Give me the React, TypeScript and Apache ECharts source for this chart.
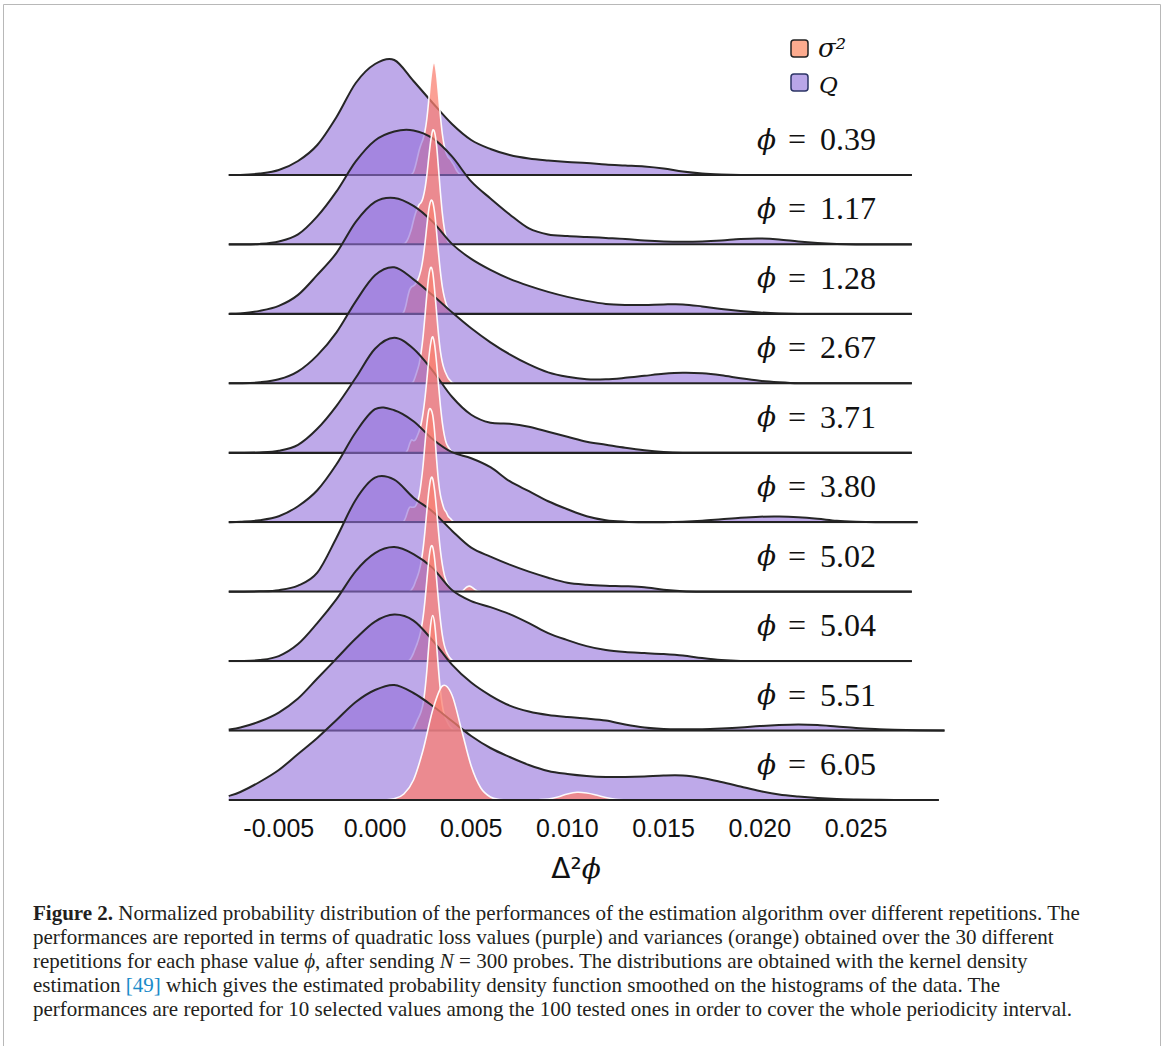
import React, { useEffect, useRef } from "react";
import * as echarts from "echarts";

// ---------- DATA ----------
// phase values (one ridge per value, top to bottom)
const PHI = ["0.39", "1.17", "1.28", "2.67", "3.71", "3.80", "5.02", "5.04", "5.51", "6.05"];
// x tick values shown on the Δ²ϕ axis
const X_TICKS = [-0.005, 0, 0.005, 0.01, 0.015, 0.02, 0.025];

// sample points of the quadratic-loss (purple) KDE curves
const QX = [-0.0076, -0.007, -0.006, -0.005, -0.004, -0.003, -0.002, -0.001, 0, 0.001, 0.002, 0.003, 0.004, 0.005, 0.006, 0.007, 0.008, 0.009, 0.010, 0.011, 0.012, 0.013, 0.014, 0.015, 0.016, 0.017, 0.018, 0.019, 0.020, 0.021, 0.022, 0.023, 0.024, 0.025, 0.026, 0.027];
// right end of each ridge's evaluation range
const Q_END = [0.0279, 0.0279, 0.0279, 0.0279, 0.0279, 0.0282, 0.0279, 0.0279, 0.0296, 0.0293];

// relative KDE density of Q (arbitrary units)
const Q039 = [0, 0, 1.5, 5, 14, 30, 58, 92, 111, 115, 94, 72, 51, 35, 26, 20, 16.5, 14.5, 13, 12, 10.5, 9.5, 8.5, 6.5, 3.5, 1.5, 0.5, 0, 0, 0, 0, 0, 0, 0, 0, 0];
const Q117 = [0, 0, 0.5, 3, 10, 28, 53, 83, 104, 113, 114, 106, 88, 63, 46, 30, 16, 10, 8.5, 7.5, 6.5, 5.5, 4, 3, 2.7, 3, 4, 5.5, 6, 5, 3, 1.5, 0.5, 0, 0, 0];
const Q128 = [0, 0.5, 3, 8, 19, 39, 61, 92, 112, 116, 108, 92, 70, 55, 44, 35, 28, 22, 17, 13, 10, 9, 9, 9.5, 9.5, 7.5, 5, 3, 1.5, 0.5, 0, 0, 0, 0, 0, 0];
const Q267 = [0, 0, 1, 4, 12, 28, 51, 82, 108, 116, 104, 88, 71, 55, 41, 29, 19, 11, 6.5, 4, 4, 5.5, 7.5, 9.5, 10.5, 10, 8, 5, 2.5, 1, 0, 0, 0, 0, 0, 0];
const Q371 = [0, 0, 0.3, 2, 8, 24, 47, 75, 104, 115, 104, 82, 56, 38, 30, 29, 26, 21, 16, 11, 8, 5, 2.5, 0.8, 0, 0, 0, 0, 0, 0, 0, 0, 0, 0, 0, 0];
const Q380 = [0, 0.5, 2, 6, 16, 32, 58, 90, 113, 112, 101, 83, 70, 64, 55, 41, 31, 21, 13, 6, 2, 0.5, 0, 0, 0.5, 1.5, 3, 4.5, 5.5, 5.7, 5, 3.5, 1.5, 0.5, 0, 0];
const Q502 = [0, 0, 0.3, 1.5, 6, 19, 54, 92, 114, 112, 94, 80, 61, 44, 35, 27, 20, 14, 9, 7, 6, 5.5, 4.5, 2, 0.5, 0, 0, 0, 0, 0, 0, 0, 0, 0, 0, 0];
const Q504 = [0, 0, 1, 5, 17, 38, 62, 90, 108, 114, 107, 93, 71, 60, 54, 47, 38, 28, 21, 15, 11, 9, 8, 7, 5.5, 3, 1, 0, 0, 0, 0, 0, 0, 0, 0, 0];
const Q551 = [1, 3, 9, 18, 32, 52, 72, 92, 109, 116, 110, 90, 66, 48, 35, 25, 19, 15.5, 13.5, 12, 10, 6, 3, 1.5, 1.2, 1.3, 2, 3, 4.5, 5.5, 6, 5.5, 4, 2.5, 1.5, 0.8];
const Q605 = [4, 8, 18, 30, 46, 62, 80, 98, 110, 115, 107, 94, 79, 64, 52, 43, 35, 29, 26, 24, 23, 23, 23.5, 24.5, 24.5, 22, 18, 13.5, 9, 5.5, 3.5, 2, 1, 0.5, 0.2, 0];

// sample points of the variance (orange) KDE curves
const SX = [0.0014, 0.0015, 0.0016, 0.0017, 0.0018, 0.0019, 0.0020, 0.0021, 0.0022, 0.0023, 0.0024, 0.0025, 0.0026, 0.0027, 0.0028, 0.0029, 0.0030, 0.0031, 0.0032, 0.0033, 0.0034, 0.0035, 0.0036, 0.0037, 0.0038, 0.0039, 0.0040, 0.0041, 0.0042, 0.0043, 0.0044, 0.0045, 0.0046, 0.0047, 0.0048, 0.0049, 0.0050, 0.0051, 0.0052, 0.0053, 0.0054, 0.0055];
const SX605 = [0, 0.0005, 0.001, 0.0015, 0.002, 0.0025, 0.003, 0.0035, 0.004, 0.0045, 0.005, 0.0055, 0.006, 0.0065, 0.007, 0.0075, 0.008, 0.0085, 0.009, 0.0095, 0.01, 0.0105, 0.011, 0.0115, 0.012, 0.0125, 0.013];

const S039 = [0, 0, 0, 0, 0, 0.5, 3, 9, 17, 25, 31, 36, 44, 57, 76, 96, 110, 112, 101, 81, 59, 41, 29, 22, 18, 16, 13, 10, 6, 3, 1, 0, 0, 0, 0, 0, 0, 0, 0, 0, 0, 0];
const S117 = [0, 0.5, 2, 5, 10, 16, 24, 31, 36, 40, 42, 47, 56, 70, 88, 104, 114, 112, 99, 76, 52, 31, 16, 7, 2.5, 1, 0, 0, 0, 0, 0, 0, 0, 0, 0, 0, 0, 0, 0, 0, 0, 0];
const S128 = [0, 2, 8, 17, 24, 27, 28, 30, 33, 38, 45, 56, 71, 89, 105, 113, 112, 101, 82, 61, 42, 27, 17, 10, 5.6, 2, 0.5, 0, 0, 0, 0, 0, 0, 0, 0, 0, 0, 0, 0, 0, 0, 0];
const S267 = [0, 0, 0, 0, 0, 0, 2, 7, 13, 20, 31, 47, 68, 90, 108, 116, 111, 93, 71, 49, 32, 21, 14, 9.4, 5.4, 3, 1, 0, 0, 0, 0, 0, 0, 0, 0, 0, 0, 0, 0, 0, 0, 0];
const S371 = [0, 0, 0, 3, 9, 13, 12, 13, 17, 22, 29, 40, 55, 74, 95, 110, 116, 108, 90, 68, 47, 30, 18, 10, 6, 3.4, 1, 0, 0, 0, 0, 0, 0, 0, 0, 0, 0, 0, 0, 0, 0, 0];
const S380 = [0, 1, 5, 11, 15, 15, 15, 16, 20, 27, 40, 57, 79, 99, 112, 113, 107, 90, 63, 41, 27, 19, 13, 10, 6, 4, 2, 0.5, 0, 0, 0, 0, 0, 0, 0, 0, 0, 0, 0, 0, 0, 0];
const S502 = [0, 0, 0, 0, 0, 2, 5, 10, 15, 21, 30, 43, 61, 82, 101, 113, 113, 101, 82, 60, 41, 27, 17, 11, 6.5, 3, 1, 0, 0, 0, 0, 0.5, 1.5, 3.5, 5, 5.5, 5, 3.5, 2, 1, 0.3, 0];
const S504 = [0, 0, 0, 0, 1, 4, 8, 13, 18, 24, 32, 44, 61, 82, 102, 114, 114, 102, 82, 60, 41, 26, 16, 10, 6, 3, 1, 0, 0, 0, 0, 0, 0, 0, 0, 0, 0, 0, 0, 0, 0, 0];
const S551 = [0, 0, 0, 0, 0, 0, 2, 6, 10.4, 14.4, 19.4, 27, 41, 61, 86, 107, 115, 107, 86, 61, 40, 25, 16, 11, 7, 4, 2, 0.5, 0, 0, 0, 0, 0, 0, 0, 0, 0, 0, 0, 0, 0, 0];
const S605 = [0, 0.2, 1.3, 6, 20, 50, 90, 114, 105, 70, 34, 12, 3, 0.5, 0, 0, 0, 0.3, 1, 3, 6, 7.7, 7, 5, 2.5, 0.8, 0];

const Q_ROWS = [Q039, Q117, Q128, Q267, Q371, Q380, Q502, Q504, Q551, Q605];
const S_ROWS = [S039, S117, S128, S267, S371, S380, S502, S504, S551, S605];
const S_XS = [SX, SX, SX, SX, SX, SX, SX, SX, SX, SX605];

// ---------- LAYOUT / STYLE ----------
const FIRST_BASE = 175;
const LAST_BASE = 800;
const RIDGE_H = 140;
const X_MIN = -0.01;
const X_MAX = 0.035;
const GRID_LEFT = 182.6;
const GRID_WIDTH = 865.8;

const PURPLE_FILL = "rgba(147,112,219,0.6)";
const ORANGE_FILL = "rgba(250,128,114,0.75)";
const CAP_SIZE = 21;

function trimZeros(xs: number[], ys: number[]) {
  let a = 0;
  let b = ys.length - 1;
  while (a < ys.length && ys[a] === 0) a++;
  while (b > 0 && ys[b] === 0) b--;
  a = Math.max(0, a - 1);
  b = Math.min(ys.length - 1, b + 1);
  const out: number[][] = [];
  for (let k = a; k <= b; k++) out.push([xs[k], ys[k]]);
  return out;
}

// Catmull-Rom curve through pixel points, written as cubic Bezier commands
function curvePath(px: number[][], base: number) {
  let d = `M${px[0][0]},${px[0][1]}`;
  for (let i = 0; i < px.length - 1; i++) {
    const p0 = px[i - 1] || px[i];
    const p1 = px[i];
    const p2 = px[i + 1];
    const p3 = px[i + 2] || p2;
    const c1x = p1[0] + (p2[0] - p0[0]) / 6;
    const c1y = Math.min(base, p1[1] + (p2[1] - p0[1]) / 6);
    const c2x = p2[0] - (p3[0] - p1[0]) / 6;
    const c2y = Math.min(base, p2[1] - (p3[1] - p1[1]) / 6);
    d += ` C${c1x},${c1y} ${c2x},${c2y} ${p2[0]},${p2[1]}`;
  }
  return d;
}

function ridgeRenderer(points: number[][], fill: string, stroke: string, lineWidth: number) {
  return (params: any, api: any) => {
    if (params.dataIndex !== 0) return null;
    const px = points.map((p) => api.coord(p));
    const base = api.coord([points[0][0], 0])[1];
    const curve = curvePath(px, base);
    const first = px[0];
    const lastP = px[px.length - 1];
    const fillD = `${curve} L${lastP[0]},${base} L${first[0]},${base} Z`;
    return {
      type: "group",
      children: [
        { type: "path", shape: { pathData: fillD }, style: { fill, stroke: "none" } },
        { type: "path", shape: { pathData: curve }, style: { fill: "none", stroke, lineWidth, lineJoin: "round" } },
      ],
    };
  };
}

function buildOption() {
  const step = (LAST_BASE - FIRST_BASE) / (PHI.length - 1);
  const baseY = PHI.map((_, i) => FIRST_BASE + i * step);

  const grid = PHI.map((_, i) => ({
    left: GRID_LEFT,
    width: GRID_WIDTH,
    top: baseY[i] - RIDGE_H,
    height: RIDGE_H,
  }));

  const last = PHI.length - 1;
  const xAxis = PHI.map((_, i) => ({
    type: "value",
    gridIndex: i,
    min: X_MIN,
    max: X_MAX,
    interval: 0.005,
    show: i === last,
    axisLine: { show: false },
    axisTick: { show: false },
    splitLine: { show: false },
    axisLabel: {
      show: i === last,
      margin: 14,
      fontFamily: "Liberation Sans",
      fontSize: 25,
      lineHeight: 28,
      color: "#111",
      formatter: (v: number) => {
        const hit = X_TICKS.some((t) => Math.abs(t - v) < 1e-9);
        if (!hit) return "";
        if (Math.abs(v) < 1e-9) return "0.000";
        return v.toFixed(3);
      },
    },
  }));

  const yAxis = PHI.map((_, i) => ({
    type: "value",
    gridIndex: i,
    min: 0,
    max: RIDGE_H,
    show: false,
  }));

  const series: any[] = [];
  PHI.forEach((_, i) => {
    const q = Q_ROWS[i];
    const qData = QX.map((x, k) => [x, q[k]]);
    qData.push([Q_END[i], 0]);
    const sData = trimZeros(S_XS[i], S_ROWS[i]);
    series.push({
      type: "custom",
      name: "Q",
      xAxisIndex: i,
      yAxisIndex: i,
      data: qData,
      silent: true,
      clip: false,
      z: 2 + i * 3,
      renderItem: ridgeRenderer(qData, PURPLE_FILL, "#262626", 2),
    });
    series.push({
      type: "custom",
      name: "σ²",
      xAxisIndex: i,
      yAxisIndex: i,
      data: sData,
      silent: true,
      clip: false,
      z: 3 + i * 3,
      renderItem: ridgeRenderer(sData, ORANGE_FILL, "rgba(255,255,255,0.95)", 1.6),
    });
    series.push({
      type: "line",
      xAxisIndex: i,
      yAxisIndex: i,
      data: [
        [QX[0], 0],
        [Q_END[i], 0],
      ],
      symbol: "none",
      silent: true,
      z: 4 + i * 3,
      lineStyle: { color: "#222", width: 2.2 },
    });
  });

  const labelRich = {
    p: { fontFamily: "DejaVu Serif", fontStyle: "italic", fontSize: 28, fill: "#111", width: 31, align: "left" },
    e: { fontFamily: "Liberation Serif", fontSize: 32, fill: "#111", width: 32, align: "left" },
    n: { fontFamily: "Liberation Serif", fontSize: 32, fill: "#111" },
  };

  const graphic: any[] = [];
  // frame
  graphic.push({
    type: "rect",
    shape: { x: 3.5, y: 4.5, width: 1157, height: 1060 },
    style: { fill: "none", stroke: "#b8b8b8", lineWidth: 1 },
    silent: true,
  });
  // ridge labels
  PHI.forEach((p, i) => {
    graphic.push({
      type: "text",
      x: 757,
      y: baseY[i] - 36,
      z: 100,
      style: {
        text: `{p|ϕ}{e|=}{n|${p}}`,
        rich: labelRich,
        align: "left",
        verticalAlign: "middle",
      },
    });
  });
  // legend
  graphic.push({
    type: "rect",
    z: 100,
    shape: { x: 791, y: 40, width: 17, height: 17, r: 3 },
    style: { fill: "#fcab8e", stroke: "#222", lineWidth: 1.5 },
  });
  graphic.push({
    type: "rect",
    z: 100,
    shape: { x: 791, y: 74, width: 17, height: 17, r: 3 },
    style: { fill: "#b9a6e8", stroke: "#2c3566", lineWidth: 1.5 },
  });
  graphic.push({
    type: "text",
    x: 818,
    y: 48,
    z: 100,
    style: {
      text: "σ²",
      fontFamily: "DejaVu Serif",
      fontStyle: "italic",
      fontSize: 26,
      fill: "#111",
      align: "left",
      verticalAlign: "middle",
    },
  });
  graphic.push({
    type: "text",
    x: 819,
    y: 85,
    z: 100,
    style: {
      text: "Q",
      fontFamily: "DejaVu Serif",
      fontStyle: "italic",
      fontSize: 23,
      fill: "#111",
      align: "left",
      verticalAlign: "middle",
    },
  });
  // axis title
  graphic.push({
    type: "text",
    x: 576,
    y: 868,
    z: 100,
    style: {
      text: "{d|Δ²}{p|ϕ}",
      rich: {
        d: { fontFamily: "DejaVu Sans", fontSize: 28, fill: "#111" },
        p: { fontFamily: "DejaVu Serif", fontStyle: "italic", fontSize: 28, fill: "#111" },
      },
      align: "center",
      verticalAlign: "middle",
    },
  });
  // caption
  const capRich = {
    b: { fontFamily: "Liberation Serif", fontWeight: "bold", fontSize: CAP_SIZE, fill: "#231f20" },
    i: { fontFamily: "Liberation Serif", fontStyle: "italic", fontSize: CAP_SIZE, fill: "#231f20" },
    c: { fontFamily: "Liberation Serif", fontSize: CAP_SIZE, fill: "#1a8bc9" },
  };
  const CAPTION = [
    "{b|Figure 2.} Normalized probability distribution of the performances of the estimation algorithm over different repetitions. The",
    "performances are reported in terms of quadratic loss values (purple) and variances (orange) obtained over the 30 different",
    "repetitions for each phase value {i|ϕ}, after sending {i|N} = 300 probes. The distributions are obtained with the kernel density",
    "estimation {c|[49]} which gives the estimated probability density function smoothed on the histograms of the data. The",
    "performances are reported for 10 selected values among the 100 tested ones in order to cover the whole periodicity interval.",
  ];
  CAPTION.forEach((line, k) => {
    graphic.push({
      type: "text",
      x: 33,
      y: 913 + k * 24,
      z: 100,
      style: {
        text: line,
        rich: capRich,
        fontFamily: "Liberation Serif",
        fontSize: CAP_SIZE,
        fill: "#231f20",
        align: "left",
        verticalAlign: "middle",
      },
    });
  });

  return {
    animation: false,
    backgroundColor: "#ffffff",
    grid,
    xAxis,
    yAxis,
    series,
    graphic,
  };
}

export default function App() {
  const ref = useRef<HTMLDivElement>(null);
  useEffect(() => {
    if (!ref.current) return;
    const chart = echarts.init(ref.current, null, { renderer: "svg" });
    chart.setOption(buildOption() as any);
    return () => {
      chart.dispose();
    };
  }, []);
  return (
    <div
      ref={ref}
      style={{ position: "absolute", left: 0, top: 0, width: 1165, height: 1046, background: "#fff" }}
    />
  );
}
